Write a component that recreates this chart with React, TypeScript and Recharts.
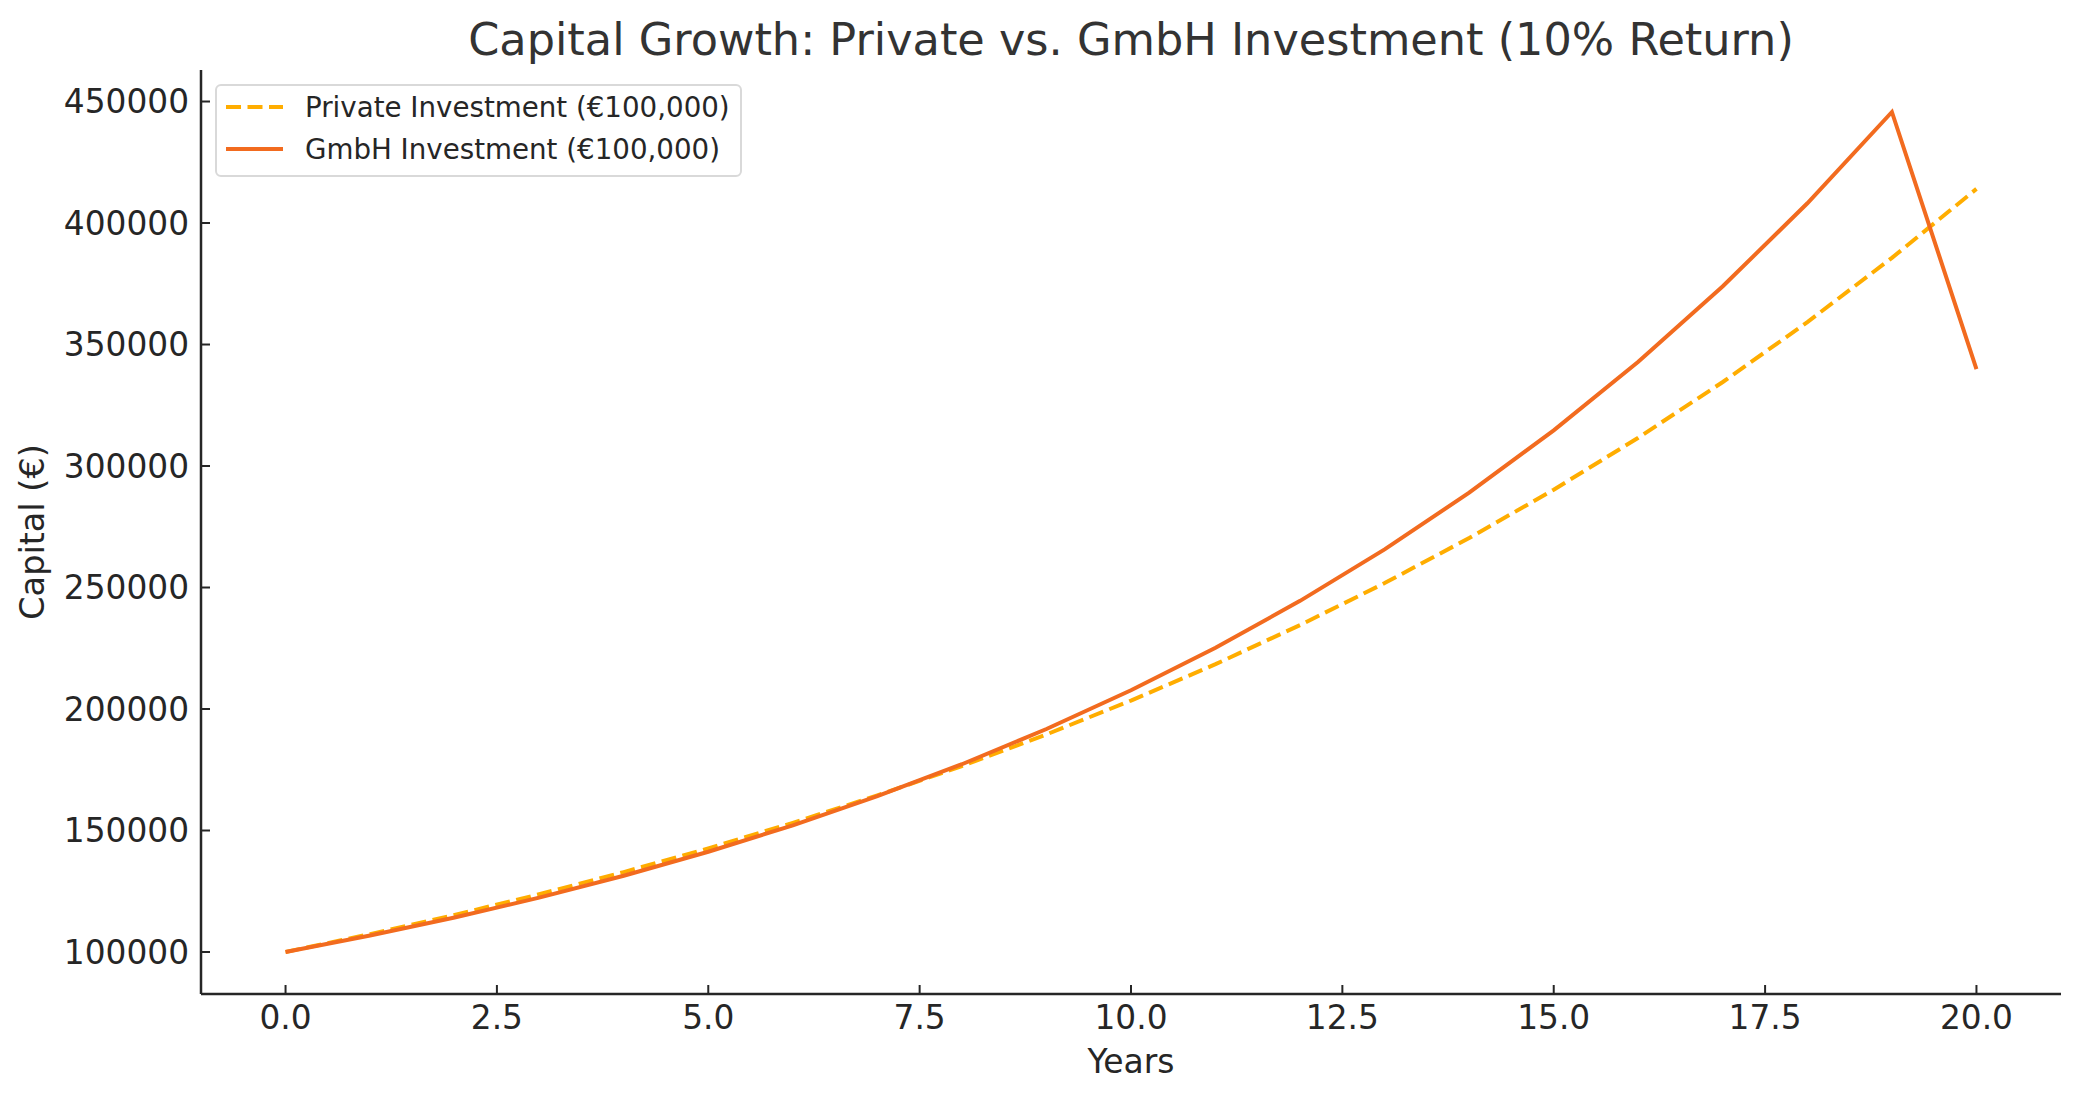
import React from "react";
import { LineChart, Line, XAxis, YAxis, Legend } from "recharts";

const years = [0, 1, 2, 3, 4, 5, 6, 7, 8, 9, 10, 11, 12, 13, 14, 15, 16, 17, 18, 19, 20];
const privateCapital = [
  100000, 107360, 115270, 123750, 132870, 142650, 153150, 164430, 176530, 189530,
  203480, 218460, 234550, 251820, 270360, 290260, 311630, 334580, 359210, 385660, 414050,
];
const gmbhCapital = [
  100000, 106760, 114190, 122370, 131360, 141250, 152140, 164110, 177270, 191760,
  207690, 225220, 244500, 265700, 289030, 314690, 342920, 373970, 408120, 445690, 339900,
];
const xTicks = [0, 2.5, 5, 7.5, 10, 12.5, 15, 17.5, 20];
const yTicks = [100000, 150000, 200000, 250000, 300000, 350000, 400000, 450000];

const series = [
  { key: "privateCap", name: "Private Investment (€100,000)", color: "#FFAD00", dash: "15 6.5" },
  { key: "gmbhCap", name: "GmbH Investment (€100,000)", color: "#F26B1F", dash: undefined },
];

const data = years.map((year, i) => ({
  year,
  privateCap: privateCapital[i],
  gmbhCap: gmbhCapital[i],
}));

const FONT = "'DejaVu Sans', sans-serif";
const axisColor = "#262626";

// legend box, drawn like matplotlib's framed legend
const LegendBox = () => (
  <div
    style={{
      position: "absolute",
      left: 215,
      top: 84,
      width: 523,
      height: 89,
      border: "2px solid #d9d9d9",
      borderRadius: 6,
      background: "rgba(255,255,255,0.8)",
      fontFamily: FONT,
      fontSize: 27.7,
      color: "#262626",
    }}
  >
    {series.map((s, i) => (
      <div
        key={s.key}
        style={{ position: "absolute", left: 0, top: 21 + i * 42 - 18, height: 36, display: "flex", alignItems: "center" }}
      >
        <svg width={80} height={36} style={{ display: "block" }}>
          <line x1={9} x2={66} y1={18} y2={18} stroke={s.color} strokeWidth={4} strokeDasharray={s.dash} />
        </svg>
        <span style={{ marginLeft: 8, whiteSpace: "nowrap" }}>{s.name}</span>
      </div>
    ))}
  </div>
);

export default function App() {
  return (
    <div style={{ position: "absolute", left: 0, top: 0, width: 2081, height: 1101, background: "#fff", fontFamily: FONT }}>
      {/* Title */}
      <div
        style={{
          position: "absolute",
          left: 201,
          width: 1860,
          top: 14,
          textAlign: "center",
          fontSize: 44.6,
          color: "#333333",
          lineHeight: "52px",
        }}
      >
        Capital Growth: Private vs. GmbH Investment (10% Return)
      </div>

      <LineChart width={2081} height={1101} data={data} margin={{ top: 70, right: 20, left: 0, bottom: 0 }}>
        <XAxis
          dataKey="year"
          type="number"
          domain={[-1, 21]}
          ticks={xTicks}
          tickFormatter={(v: number) => v.toFixed(1)}
          height={107}
          tickSize={-9}
          tickMargin={21}
          axisLine={{ stroke: axisColor, strokeWidth: 2.5 }}
          tickLine={{ stroke: axisColor, strokeWidth: 2 }}
          tick={{ fill: axisColor, fontSize: 32.8, fontFamily: FONT }}
          allowDataOverflow
        />
        <YAxis
          type="number"
          domain={[82716, 462972]}
          ticks={yTicks}
          width={201}
          tickSize={-9}
          tickMargin={21}
          axisLine={{ stroke: axisColor, strokeWidth: 2.5 }}
          tickLine={{ stroke: axisColor, strokeWidth: 2 }}
          tick={{ fill: axisColor, fontSize: 32.8, fontFamily: FONT }}
          allowDataOverflow
        />
        {series.map((s) => (
          <Line
            key={s.key}
            type="linear"
            dataKey={s.key}
            name={s.name}
            stroke={s.color}
            strokeWidth={4}
            strokeDasharray={s.dash}
            dot={false}
            activeDot={false}
            isAnimationActive={false}
          />
        ))}
        <Legend content={() => null} />
      </LineChart>

      <LegendBox />

      {/* Axis labels */}
      <div
        style={{
          position: "absolute",
          left: 201,
          width: 1860,
          top: 1042,
          textAlign: "center",
          fontSize: 33,
          color: axisColor,
          lineHeight: "40px",
        }}
      >
        Years
      </div>
      <div
        style={{
          position: "absolute",
          left: 33,
          top: 532,
          transform: "translate(-50%, -50%) rotate(-90deg)",
          fontSize: 33.5,
          color: axisColor,
          whiteSpace: "nowrap",
          lineHeight: "40px",
        }}
      >
        Capital (€)
      </div>
    </div>
  );
}
